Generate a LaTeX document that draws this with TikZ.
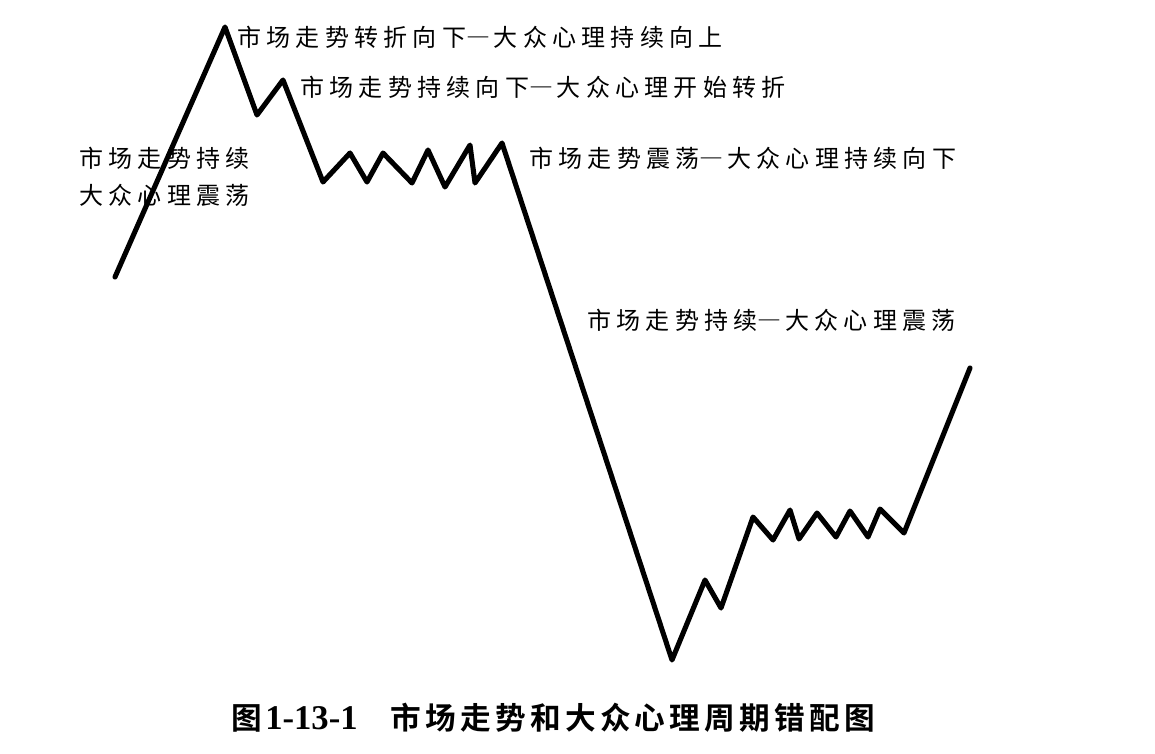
\documentclass[tikz,border=0pt]{standalone}
\usepackage{fontspec}
\newfontfamily\cjk[LetterSpace=22]{Noto Sans CJK SC}
\newfontfamily\cjkcap[LetterSpace=14]{Noto Sans CJK SC Bold}
\newfontfamily\capnum{Liberation Serif}
\newcommand{\fwdash}{{\addfontfeatures{CharacterWidth=Full}—}\hspace{0.15em}}
\begin{document}
\begin{tikzpicture}[x=0.75pt,y=-0.75pt,
  curve/.style={line width=3.8pt,line join=round,line cap=round},
  lbl/.style={anchor=west,inner sep=0pt,font=\cjk\fontsize{18pt}{22pt}\selectfont},
  captext/.style={anchor=west,inner sep=0pt,font=\cjkcap\fontsize{23pt}{27pt}\selectfont}]
\useasboundingbox (0,0) rectangle (1155,753);
\foreach \n/\x/\y in {a/115/277, b/225/27, c/257/115, d/283/80, e/323/182, f/350/153,
  g/367/182, h/383/153, i/412/183, j/428/150, k/445/187, l/470/145, m/475/183, n/502/143,
  o/672/660, p/705/580, q/721/608, r/753/517, s/773/540, t/790/510, u/799/539, v/817/513,
  w/836/537, x/850/511, y/868/537, z/880/509, zz/904/533, end/970/368}
  \coordinate (\n) at (\x,\y);
\draw[curve] (a)--(b)--(c)--(d)--(e)--(f)--(g)--(h)--(i)--(j)--(k)--(l)--(m)--(n)
  --(o)--(p)--(q)--(r)--(s)--(t)--(u)--(v)--(w)--(x)--(y)--(z)--(zz)--(end);
\node[lbl] (l1) at (237,37) {市场走势转折向下\fwdash 大众心理持续向上};
\node[lbl] (l2) at (300,87) {市场走势持续向下\fwdash 大众心理开始转折};
\node[lbl] (l3a) at (79,158) {市场走势持续};
\node[lbl] (l3b) at (79,195) {大众心理震荡};
\node[lbl] (l4) at (529,158) {市场走势震荡\fwdash 大众心理持续向下};
\node[lbl] (l5) at (587,320) {市场走势持续\fwdash 大众心理震荡};
\node[captext] (c1) at (231,718) {图};
\node[anchor=west,inner sep=0pt,font=\capnum\bfseries\fontsize{26pt}{30pt}\selectfont] (c2) at (265,718) {1-13-1};
\node[captext] (c3) at (390,718) {市场走势和大众心理周期错配图};
\end{tikzpicture}
\end{document}
